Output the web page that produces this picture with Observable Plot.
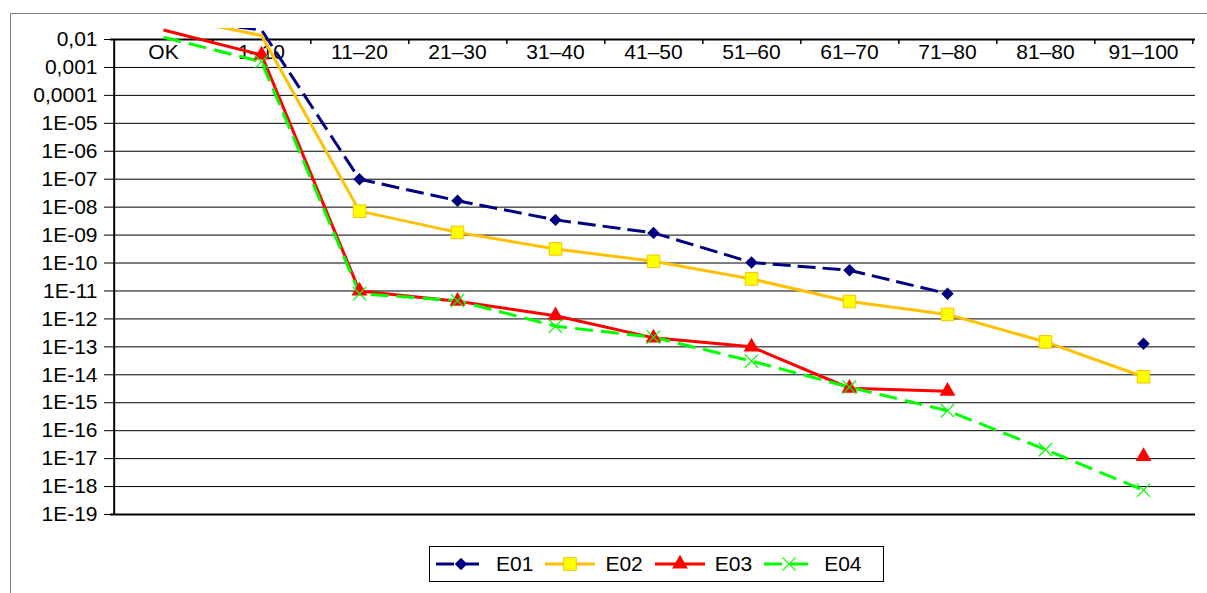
<!DOCTYPE html>
<html><head><meta charset="utf-8">
<script src="https://cdn.jsdelivr.net/npm/d3@7"></script>
<script src="https://cdn.jsdelivr.net/npm/@observablehq/plot@0.6"></script>
<style>
html,body{margin:0;padding:0;background:#fff;overflow:hidden;}
#wrap{position:relative;width:1207px;height:593px;font-family:"Liberation Sans",Arial,sans-serif;}
#border{position:absolute;left:10px;top:13px;width:1210px;height:600px;border-top:1px solid #808080;border-left:1px solid #808080;}
#chart{position:absolute;left:0;top:0;}
#legend{position:absolute;left:429px;top:546px;width:447px;height:34px;border:1.5px solid #000;background:#fff;display:flex;align-items:center;padding-left:6px;box-sizing:content-box;font-size:21px;color:#000;}
#legend .item{display:flex;align-items:center;margin-right:12px;}
#legend svg{display:block;margin-right:10px;}
</style></head>
<body><div id="wrap"><div id="border"></div><div id="chart"></div><div id="legend"></div></div>
<script>
const categories = ["OK","1–10","11–20","21–30","31–40","41–50","51–60","61–70","71–80","81–80","91–100"];
const seriesNames = ["E01","E02","E03","E04"];
const e01 = [0.06, 0.022, 1e-7, 1.7e-8, 3.5e-9, 1.2e-9, 1.05e-10, 5.5e-11, 8e-12, null, 1.3e-13];
const e02 = [0.072, 0.0139, 7.2e-9, 1.25e-9, 3.2e-10, 1.15e-10, 2.7e-11, 4.2e-12, 1.45e-12, 1.5e-13, 8.5e-15];
const e03 = [0.022, 2.8e-3, 1e-11, 4.3e-12, 1.3e-12, 2.1e-13, 1e-13, 3.3e-15, 2.6e-15, null, 1.2e-17];
const e04 = [0.0121, 1.6e-3, 8e-12, 4.5e-12, 5.5e-13, 2.2e-13, 3.1e-14, 3.6e-15, 5.2e-16, 2.1e-17, 7.4e-19];
const yTicks = [1e-2,1e-3,1e-4,1e-5,1e-6,1e-7,1e-8,1e-9,1e-10,1e-11,1e-12,1e-13,1e-14,1e-15,1e-16,1e-17,1e-18,1e-19];
const yTickLabels = ["0,01","0,001","0,0001","1E-05","1E-06","1E-07","1E-08","1E-09","1E-10","1E-11","1E-12","1E-13","1E-14","1E-15","1E-16","1E-17","1E-18","1E-19"];
const axisMax = 0.01; // top of the value axis

const styles = {
  E01: {stroke: "#000080", dash: "18,7", symbol: "diamond2", fill: "#000080", mstroke: "none", r: 5.6, msw: 0},
  E02: {stroke: "#FFC000", dash: null, symbol: "square", fill: "#FFFF00", mstroke: "#F5C400", r: 7.1, msw: 1},
  E03: {stroke: "#FF0000", dash: null, symbol: "triangle", fill: "#FF0000", mstroke: "none", r: 5.9, msw: 0},
  E04: {stroke: "#00FF00", dash: "18,8", symbol: "times", fill: "none", mstroke: "#00FF00", r: 6.1, msw: 1.2}
};
const seriesValues = {E01: e01, E02: e02, E03: e03, E04: e04};
const rows = seriesNames.flatMap(s => categories.map((c, i) => ({series: s, cat: c, v: seriesValues[s][i]})));

// layout
const W = 1207, H = 530, mL = 110, mR = 12, mT = 28, mB = 16;
const yTopPx = 39; // pixel of axisMax
const decadePx = (H - mB - yTopPx) / (Math.log10(axisMax) - Math.log10(yTicks[yTicks.length-1]));
const domainTop = axisMax * Math.pow(10, (yTopPx - mT) / decadePx);
const step = (W - mL - mR) / categories.length;

const marks = [
  Plot.ruleY(yTicks, {stroke: "#000", strokeWidth: d => (d === axisMax || d === yTicks[yTicks.length-1]) ? 2 : 1}),
  Plot.ruleX([categories[0]], {x: d => d, dx: -step/2, y1: d => yTicks[yTicks.length-1], y2: d => axisMax, stroke: "#000", strokeWidth: 2}),
  Plot.ruleX(categories, {x: d => d, dx: step/2, y1: d => axisMax, y2: d => axisMax, insetBottom: -5, stroke: "#000", strokeWidth: 1.5}),
  Plot.axisY({ticks: yTicks, tickFormat: d => yTickLabels[yTicks.indexOf(d)], tickSize: 6, tickPadding: 7, fontSize: 21, label: null, stroke: "#000", fill: "#000"}),
  Plot.text(categories, {x: d => d, y: d => axisMax, text: d => d, lineAnchor: "top", dy: 5, fontSize: 21, fill: "#000"})
];
for (const s of seriesNames) {
  const st = styles[s];
  const data = rows.filter(d => d.series === s);
  marks.push(Plot.line(data, {x: "cat", y: "v", stroke: st.stroke, strokeWidth: 3, strokeDasharray: st.dash, strokeLinecap: "butt", strokeLinejoin: "round", clip: true}));
}
for (const s of seriesNames) {
  const st = styles[s];
  const data = rows.filter(d => d.series === s && d.v != null && d.v <= axisMax);
  marks.push(Plot.dot(data, {x: "cat", y: "v", symbol: () => st.symbol, r: st.r, fill: st.fill, stroke: st.mstroke, strokeWidth: st.msw}));
}

const chart = Plot.plot({
  width: W, height: H,
  marginLeft: mL, marginRight: mR, marginTop: mT, marginBottom: mB,
  style: {background: "transparent", overflow: "visible", fontFamily: '"Liberation Sans", Arial, sans-serif', color: "#000"},
  x: {type: "point", domain: categories, padding: 0.5, axis: null},
  y: {type: "log", domain: [yTicks[yTicks.length-1], domainTop], axis: null},
  symbol: {type: "identity"},
  marks
});
document.getElementById("chart").appendChild(chart);

// legend
const symMap = {diamond2: d3.symbolDiamond2, square: d3.symbolSquare, triangle: d3.symbolTriangle, times: d3.symbolTimes};
const legend = document.getElementById("legend");
for (const s of seriesNames) {
  const st = styles[s];
  const path = d3.symbol(symMap[st.symbol], Math.PI * st.r * st.r)();
  const item = document.createElement("div");
  item.className = "item";
  item.innerHTML = `<svg width="50" height="20" viewBox="0 0 50 20">
    <line x1="0" y1="10" x2="50" y2="10" stroke="${st.stroke}" stroke-width="3" ${st.dash ? `stroke-dasharray="${st.dash}"` : ""}></line>
    <path transform="translate(25,10)" d="${path}" fill="${st.fill}" stroke="${st.mstroke}" stroke-width="${st.msw}"></path>
  </svg><span>${s}</span>`;
  legend.appendChild(item);
}
</script>
</body></html>
